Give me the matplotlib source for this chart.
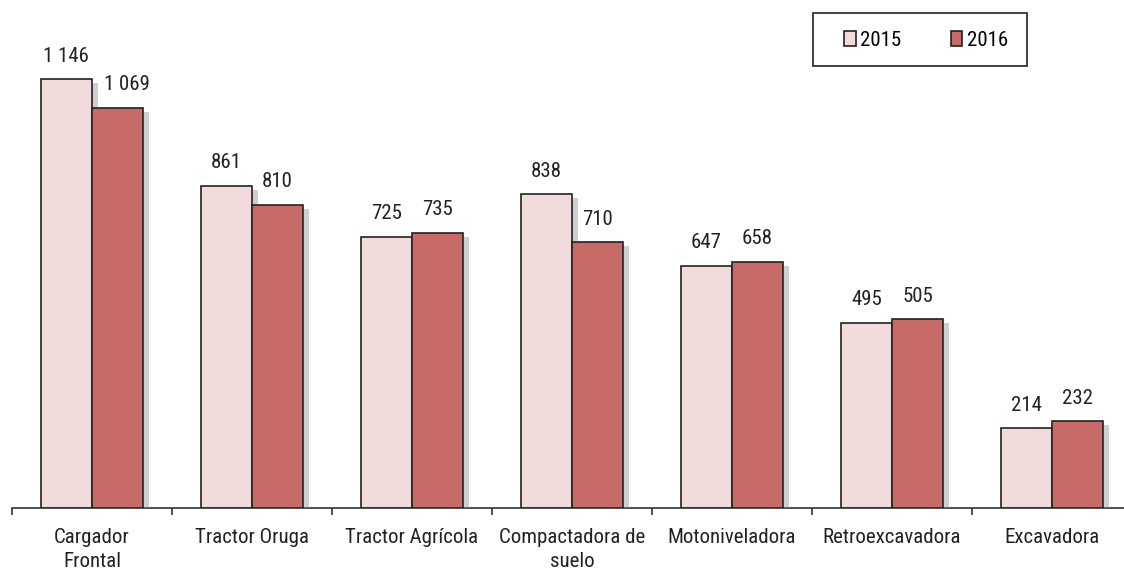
import matplotlib
matplotlib.use("Agg")
import matplotlib.pyplot as plt
import matplotlib.patheffects as pe
from matplotlib.patches import Patch, Rectangle
import numpy as np

categories = ["Cargador\nFrontal", "Tractor Oruga", "Tractor Agrícola",
              "Compactadora de\nsuelo", "Motoniveladora", "Retroexcavadora", "Excavadora"]
values_2015 = [1146, 861, 725, 838, 647, 495, 214]
values_2016 = [1069, 810, 735, 710, 658, 505, 232]
series_names = ["2015", "2016"]

def fmt(v):
    return f"{v:,}".replace(",", " ")

plt.rcParams['font.family'] = ['Roboto Condensed', 'DejaVu Sans']
FS = 15

W, H = 1124, 571
fig = plt.figure(figsize=(W / 100, H / 100), dpi=100)
ax = fig.add_axes([12 / W, (H - 508) / H, 1120 / W, 508 / H])

c15 = "#F2DCDB"
c16 = "#C86A67"
edge = "#222222"
bw = 0.32
x = np.arange(len(categories))

shadow = [pe.SimplePatchShadow(offset=(4, -3), shadow_rgbFace="#888888", alpha=0.4), pe.Normal()]
b1 = ax.bar(x - bw, values_2015, width=bw, align='edge', color=c15, edgecolor=edge, linewidth=1.2,
            label=series_names[0], zorder=2)
b2 = ax.bar(x, values_2016, width=bw, align='edge', color=c16, edgecolor=edge, linewidth=1.2,
            label=series_names[1], zorder=3)
for b in list(b1) + list(b2):
    b.set_path_effects(shadow)

for xi, v in zip(x, values_2015):
    ax.annotate(fmt(v), (xi - bw / 2, v), xytext=(0, 12.5), textcoords="offset points",
                ha="center", va="baseline", fontsize=FS, color="#222222")
for i, (xi, v) in enumerate(zip(x, values_2016)):
    dx = 6.5 if i == 0 else 0  # first label nudged right to clear the taller neighbour
    ax.annotate(fmt(v), (xi + bw / 2, v), xytext=(dx, 12.5), textcoords="offset points",
                ha="center", va="baseline", fontsize=FS, color="#222222")

ax.set_xlim(-0.5, 6.5)
ax.set_ylim(0, 1357)
ax.set_xticks(x)
ax.set_xticklabels(categories, fontsize=FS, color="#222222", linespacing=1.35)
ax.set_xticks(np.arange(-0.5, 7.0, 1.0), minor=True)
ax.tick_params(axis="x", which="major", length=0, pad=14.5)
ax.tick_params(axis="x", which="minor", length=5, width=1.2, color="#333333", direction="out")
ax.set_yticks([])
for s in ["left", "right", "top"]:
    ax.spines[s].set_visible(False)
ax.spines["bottom"].set_color("#333333")
ax.spines["bottom"].set_linewidth(1.2)

# legend
fig.add_artist(Rectangle((813 / W, 1 - 66 / H), (1027 - 813) / W, (66 - 13) / H,
                         transform=fig.transFigure, facecolor="white", edgecolor="#333333",
                         linewidth=1.3, zorder=5))
handles = [Patch(facecolor=c15, edgecolor=edge, linewidth=1.2, label=series_names[0]),
           Patch(facecolor=c16, edgecolor=edge, linewidth=1.2, label=series_names[1])]
leg = fig.legend(handles=handles, loc="center", bbox_to_anchor=(926 / W, 1 - 40 / H),
                 ncol=2, frameon=False, fontsize=FS, handlelength=0.55, handleheight=0.75,
                 handletextpad=0.2, columnspacing=2.4)
leg.set_zorder(6)

fig.savefig("out.png", dpi=100)
